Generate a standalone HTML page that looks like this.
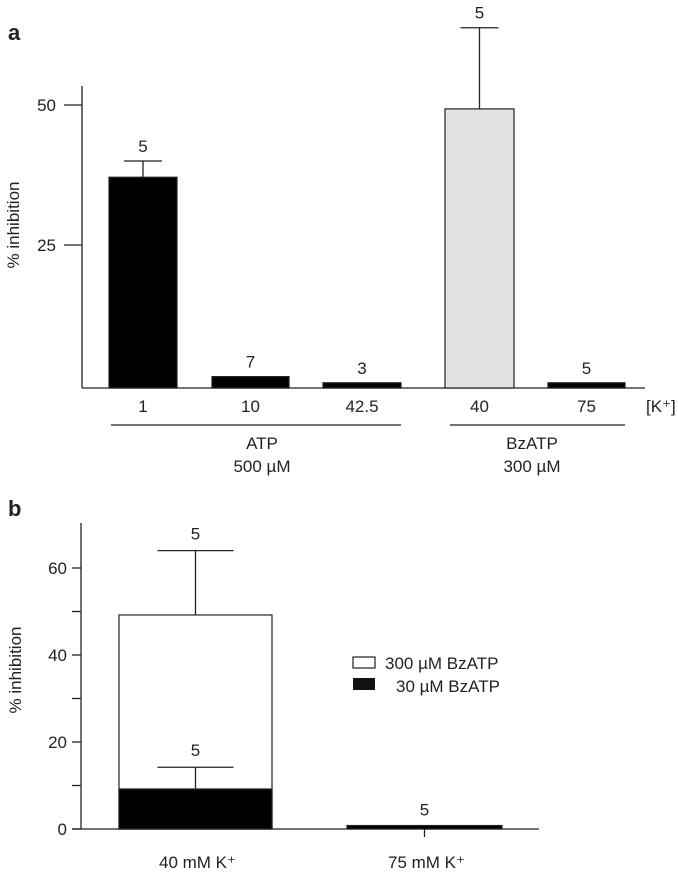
<!DOCTYPE html>
<html><head><meta charset="utf-8"><style>
body{margin:0;background:#fff;}
svg{display:block;font-family:"Liberation Sans",sans-serif;}
text{fill:#222;}
</style></head><body>
<svg width="678" height="874" viewBox="0 0 678 874">
<g id="pa"></g>
<g id="pb"></g>
</svg>
<script>
// Panel a data
const aCategories = ["1","10","42.5","40","75"];
const aValues = [37.1, 1.5, 0.4, 49.3, 0.4];
const aErrors = [2.9, 0, 0, 14.5, 0];
const aN = ["5","7","3","5","5"];
const aFills = ["#000","#000","#000","#e2e2e2","#000"];
const aTicks = [25, 50];
// Panel b data
const bCategories = ["40 mM K\u207A","75 mM K\u207A"];
const bHigh = [49.2, 0];
const bHighErr = [14.8, 0];
const bLow = [9.2, 0.8];
const bLowErr = [5, 0];
const bTicks = [0,20,40,60];
const bMinor = [10,30,50];

const NS="http://www.w3.org/2000/svg";
function mk(parent,tag,attrs,txt){const e=document.createElementNS(NS,tag);for(const k in attrs)e.setAttribute(k,attrs[k]);if(txt!==undefined)e.textContent=txt;parent.appendChild(e);return e;}

// ---------- Panel a ----------
const pa=document.getElementById('pa');
const ay=v=>385-v*5.6;
const aBase=388;
const aBarX=[[109,177],[212,289],[323,401],[445,514],[548,625]];
let t=mk(pa,'text',{x:8,y:40,'font-size':22,'font-weight':'bold'},'a');


let l=mk(pa,'line',{x1:82,y1:86,x2:82,y2:aBase,stroke:'#222','stroke-width':1.3});


l=mk(pa,'line',{x1:82,y1:aBase,x2:645,y2:aBase,stroke:'#222','stroke-width':1.3});


aTicks.forEach(v=>{
  let tk=mk(pa,'line',{x1:64,y1:ay(v),x2:82,y2:ay(v),stroke:'#222','stroke-width':1.3});
  
  
  let tl=mk(pa,'text',{x:56,y:ay(v)+6,'font-size':17,'text-anchor':'end'},String(v));
  
  
});
t=mk(pa,'text',{x:0,y:0,'font-size':17,'text-anchor':'middle',transform:'translate(19,225) rotate(-90)'},'% inhibition');


aValues.forEach((v,i)=>{
  const [x0,x1]=aBarX[i];const cx=(x0+x1)/2;
  const top=Math.min(ay(v),aBase-2);
  let r=mk(pa,'rect',{x:x0,y:top,width:x1-x0,height:aBase-top,fill:aFills[i],stroke:'#222','stroke-width':1.2});
  
  
  let lblY=top-9;
  if(aErrors[i]>0){
    const et=ay(v+aErrors[i]);
    let e=mk(pa,'path',{d:`M${cx},${top}V${et}M${cx-19},${et}H${cx+19}`,stroke:'#222','stroke-width':1.3,fill:'none'});
    
    
    lblY=et-9;
  }
  let n=mk(pa,'text',{x:cx,y:lblY,'font-size':17,'text-anchor':'middle'},aN[i]);
  
  
  let c=mk(pa,'text',{x:cx,y:412,'font-size':17,'text-anchor':'middle'},aCategories[i]);
  
  
});
t=mk(pa,'text',{x:646,y:412,'font-size':17},'[K\u207A]');


[[111,401,262,'ATP','500 \u00B5M'],[450,625,532,'BzATP','300 \u00B5M']].forEach(g=>{
  let gl=mk(pa,'line',{x1:g[0],y1:425,x2:g[1],y2:425,stroke:'#222','stroke-width':1.2});
  
  
  let g1=mk(pa,'text',{x:g[2],y:449,'font-size':17,'text-anchor':'middle'},g[3]);
  
  
  let g2=mk(pa,'text',{x:g[2],y:472,'font-size':17,'text-anchor':'middle'},g[4]);
  
  
});

// ---------- Panel b ----------
const pb=document.getElementById('pb');
const by=v=>829-v*4.35;
const bBarX=[[119,272],[347,502]];
t=mk(pb,'text',{x:8,y:516,'font-size':22,'font-weight':'bold'},'b');


l=mk(pb,'line',{x1:81,y1:523,x2:81,y2:829,stroke:'#222','stroke-width':1.3});


l=mk(pb,'line',{x1:72,y1:829,x2:539,y2:829,stroke:'#222','stroke-width':1.3});


bTicks.forEach(v=>{
  let tk=mk(pb,'line',{x1:72,y1:by(v),x2:81,y2:by(v),stroke:'#222','stroke-width':1.3});
  
  
  let tl=mk(pb,'text',{x:67,y:by(v)+6,'font-size':17,'text-anchor':'end'},String(v));
  
  
});
bMinor.forEach(v=>{
  let tk=mk(pb,'line',{x1:72,y1:by(v),x2:81,y2:by(v),stroke:'#222','stroke-width':1.3});
  
  
});
t=mk(pb,'text',{x:0,y:0,'font-size':17,'text-anchor':'middle',transform:'translate(21,670) rotate(-90)'},'% inhibition');


bCategories.forEach((c,i)=>{
  const [x0,x1]=bBarX[i];const cx=(x0+x1)/2;
  if(bHigh[i]>0){
    const top=by(bHigh[i]);
    let r=mk(pb,'rect',{x:x0,y:top,width:x1-x0,height:829-top,fill:'#fff',stroke:'#222','stroke-width':1.2});
    
    
    const et=by(bHigh[i]+bHighErr[i]);
    let e=mk(pb,'path',{d:`M${cx},${top}V${et}M${cx-38},${et}H${cx+38}`,stroke:'#222','stroke-width':1.3,fill:'none'});
    
    
    let n=mk(pb,'text',{x:cx,y:et-11,'font-size':17,'text-anchor':'middle'},'5');
    
    
  }
  const lt=by(bLow[i]);
  let r2=mk(pb,'rect',{x:x0,y:lt,width:x1-x0,height:829-lt,fill:'#000',stroke:'#222','stroke-width':1.2});
  
  
  let lblY=lt-10;
  if(bLowErr[i]>0){
    const et=by(bLow[i]+bLowErr[i]);
    let e=mk(pb,'path',{d:`M${cx},${lt}V${et}M${cx-38},${et}H${cx+38}`,stroke:'#222','stroke-width':1.3,fill:'none'});
    
    
    lblY=et-11;
  } else {
    let e=mk(pb,'line',{x1:cx,y1:829,x2:cx,y2:837,stroke:'#222','stroke-width':1.3});
    
    
  }
  let n=mk(pb,'text',{x:cx,y:lblY,'font-size':17,'text-anchor':'middle'},'5');
  
  
  let cl=mk(pb,'text',{x:cx+2,y:868,'font-size':17,'text-anchor':'middle'},c);
  
  
});
let lg=mk(pb,'rect',{x:353,y:657,width:22,height:11,fill:'#fff',stroke:'#222','stroke-width':1.2});


t=mk(pb,'text',{x:385,y:669,'font-size':17},'300 \u00B5M BzATP');


lg=mk(pb,'rect',{x:353,y:678,width:22,height:12,fill:'#111'});


t=mk(pb,'text',{x:396,y:692,'font-size':17},'30 \u00B5M BzATP');


</script>
</body></html>
